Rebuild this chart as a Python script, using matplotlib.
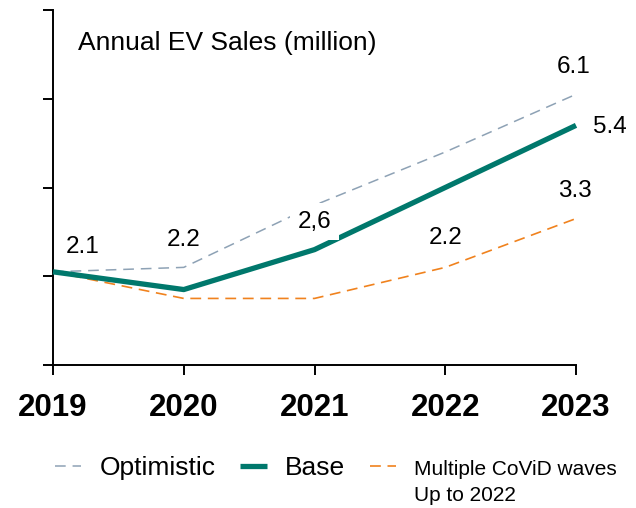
import matplotlib
matplotlib.use("Agg")
import matplotlib.pyplot as plt

plt.rcParams['font.family'] = ['Liberation Sans', 'DejaVu Sans']

# data
years = [2019, 2020, 2021, 2022, 2023]
optimistic = [2.1, 2.2, 3.6, 4.8, 6.1]
base = [2.1, 1.7, 2.6, 4.0, 5.4]
multiple = [2.1, 1.5, 1.5, 2.2, 3.3]

# value labels: (text, series, year index)
value_labels = [
    ("2.1", "base", 0),
    ("2.2", "optimistic", 1),
    ("2,6", "base", 2),
    ("2.2", "multiple", 3),
    ("6.1", "optimistic", 4),
    ("5.4", "base", 4),
    ("3.3", "multiple", 4),
]
series = {"optimistic": optimistic, "base": base, "multiple": multiple}

c_opt = '#8EA2B5'
c_base = '#00786C'
c_multi = '#F0821E'

fig = plt.figure(figsize=(6.36, 5.08), dpi=100)
ax = fig.add_axes([53/636, 1 - 365/508, 523/636, 355/508])

ax.plot(years, optimistic, color=c_opt, lw=1.1, dashes=(7, 4.5), label='Optimistic', clip_on=False, zorder=2)
ax.plot(years, multiple, color=c_multi, lw=1.2, dashes=(6.5, 4), label='Multiple CoViD waves', clip_on=False, zorder=2)
ax.plot(years, base, color=c_base, lw=3.8, solid_joinstyle='round', solid_capstyle='butt', label='Base', clip_on=False, zorder=3)

# offsets in pixels from the data point to the label centre
offsets = [(30, 25), (0, 27), (0, 28), (0, 29), (-2, 27), (34, -2), (-1, 28)]
for (txt, key, i), off in zip(value_labels, offsets):
    bb = None
    if txt == "2,6":
        # white box hides the lines behind this label, as in the original
        bb = dict(boxstyle='square,pad=0.3', fc='white', ec='none')
    ax.annotate(txt, xy=(years[i], series[key][i]), xytext=off, textcoords='offset pixels',
                ha='center', va='center', fontsize=17.5, color='black', bbox=bb, zorder=5,
                annotation_clip=False)

ax.text(0.048, 0.906, 'Annual EV Sales (million)', transform=ax.transAxes,
        ha='left', va='center', fontsize=19)

ax.set_xlim(2019, 2023)
ax.set_ylim(0, 8)
ax.set_xticks(years)
ax.set_xticklabels([str(y) for y in years], fontsize=22.5, fontweight='bold')
ax.set_yticks([0, 2, 4, 6, 8])
ax.set_yticklabels([])
ax.tick_params(axis='both', direction='out', length=7, width=1.4, colors='black')
ax.tick_params(axis='x', pad=13)
for s in ['top', 'right']:
    ax.spines[s].set_visible(False)
for s in ['left', 'bottom']:
    ax.spines[s].set_linewidth(1.4)

h, l = ax.get_legend_handles_labels()
order = [0, 2, 1]
leg = fig.legend([h[i] for i in order], [l[i] for i in order], loc='upper left',
                 bbox_to_anchor=(55/636, 1 - 456/508), ncol=3, frameon=False,
                 fontsize=19, handlelength=1.0, handletextpad=0.68, columnspacing=0.95,
                 borderpad=0, borderaxespad=0)
texts = leg.get_texts()
texts[2].set_fontsize(15)

fig.canvas.draw()
bb = texts[2].get_window_extent()
fig.text(bb.x0 / 636, (bb.y0 - 26) / 508, 'Up to 2022', fontsize=15, ha='left', va='bottom')

fig.savefig('out.png', dpi=100)
